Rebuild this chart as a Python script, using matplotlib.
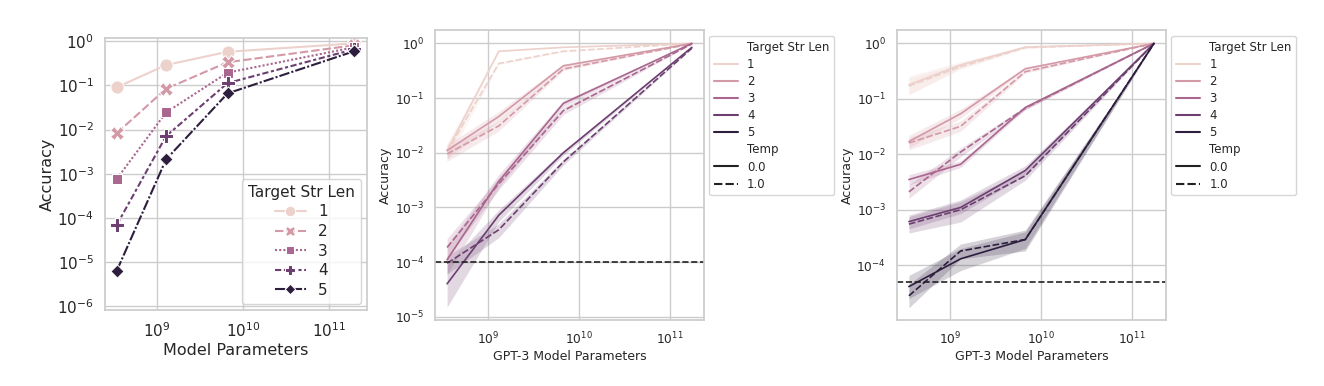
import numpy as np
import matplotlib
matplotlib.use("Agg")
import matplotlib.pyplot as plt
import seaborn as sns
from matplotlib.lines import Line2D

sns.set_theme(style="whitegrid")
plt.rcParams['font.family'] = ['DejaVu Sans']

# ---------------- data ----------------
lengths = [1, 2, 3, 4, 5]
params_left = [3.44e8, 1.28e9, 6.6e9, 1.95e11]
acc_left = {
    1: [0.091, 0.29, 0.58, 0.90],
    2: [0.0083, 0.084, 0.336, 0.815],
    3: [7.6e-4, 0.0244, 0.195, 0.736],
    4: [6.9e-5, 0.0071, 0.113, 0.665],
    5: [6.3e-6, 0.0021, 0.066, 0.60],
}

gpt3_params = [3.5e8, 1.3e9, 6.7e9, 1.75e11]
temps = [0.0, 1.0]

# panel 2: (mean, lower, upper) per (length, temp)
mid_mean = {
    (1, 0.0): [0.011, 0.72, 0.85, 1.0],
    (1, 1.0): [0.0105, 0.43, 0.72, 1.0],
    (2, 0.0): [0.011, 0.046, 0.39, 1.0],
    (2, 1.0): [0.0095, 0.031, 0.34, 0.99],
    (3, 0.0): [1.1e-4, 0.0030, 0.080, 1.0],
    (3, 1.0): [1.85e-4, 0.0027, 0.059, 0.98],
    (4, 0.0): [4e-5, 7.2e-4, 0.010, 0.85],
    (4, 1.0): [9.5e-5, 3.9e-4, 0.0068, 0.82],
}
mid_low = {
    (1, 0.0): [0.008, 0.70, 0.84, 1.0],
    (1, 1.0): [0.007, 0.41, 0.70, 1.0],
    (2, 0.0): [0.008, 0.037, 0.36, 1.0],
    (2, 1.0): [0.007, 0.025, 0.32, 0.99],
    (3, 0.0): [6e-5, 0.0023, 0.070, 1.0],
    (3, 1.0): [1.2e-4, 0.0021, 0.050, 0.975],
    (4, 0.0): [1.5e-5, 5.5e-4, 0.009, 0.84],
    (4, 1.0): [6e-5, 2.8e-4, 0.006, 0.81],
}
mid_high = {
    (1, 0.0): [0.015, 0.74, 0.86, 1.0],
    (1, 1.0): [0.014, 0.45, 0.74, 1.0],
    (2, 0.0): [0.014, 0.057, 0.42, 1.0],
    (2, 1.0): [0.012, 0.038, 0.37, 0.995],
    (3, 0.0): [2e-4, 0.0040, 0.090, 1.0],
    (3, 1.0): [2.7e-4, 0.0035, 0.068, 0.985],
    (4, 0.0): [9e-5, 9e-4, 0.011, 0.86],
    (4, 1.0): [1.3e-4, 5e-4, 0.0076, 0.83],
}
mid_chance = 1e-4

# panel 3
right_mean = {
    (1, 0.0): [0.18, 0.41, 0.86, 1.0],
    (1, 1.0): [0.17, 0.38, 0.84, 1.0],
    (2, 0.0): [0.017, 0.054, 0.35, 1.0],
    (2, 1.0): [0.016, 0.032, 0.31, 1.0],
    (3, 0.0): [0.0035, 0.0066, 0.070, 1.0],
    (3, 1.0): [0.0021, 0.011, 0.068, 1.0],
    (4, 0.0): [6.1e-4, 1.1e-3, 0.0051, 1.0],
    (4, 1.0): [5.5e-4, 1.0e-3, 0.0041, 1.0],
    (5, 0.0): [4.1e-5, 1.3e-4, 2.9e-4, 1.0],
    (5, 1.0): [2.8e-5, 1.8e-4, 2.9e-4, 1.0],
}
right_low = {
    (1, 0.0): [0.12, 0.36, 0.84, 1.0],
    (1, 1.0): [0.12, 0.34, 0.82, 1.0],
    (2, 0.0): [0.013, 0.045, 0.33, 1.0],
    (2, 1.0): [0.012, 0.026, 0.29, 1.0],
    (3, 0.0): [0.0028, 0.0058, 0.065, 1.0],
    (3, 1.0): [0.0016, 0.009, 0.063, 1.0],
    (4, 0.0): [4.5e-4, 8.5e-4, 0.0042, 1.0],
    (4, 1.0): [3.8e-4, 6e-4, 0.0034, 1.0],
    (5, 0.0): [2.5e-5, 8e-5, 2.0e-4, 1.0],
    (5, 1.0): [1.7e-5, 1.3e-4, 1.8e-4, 1.0],
}
right_high = {
    (1, 0.0): [0.26, 0.47, 0.88, 1.0],
    (1, 1.0): [0.24, 0.44, 0.86, 1.0],
    (2, 0.0): [0.022, 0.065, 0.37, 1.0],
    (2, 1.0): [0.020, 0.040, 0.33, 1.0],
    (3, 0.0): [0.0043, 0.0076, 0.075, 1.0],
    (3, 1.0): [0.0028, 0.013, 0.073, 1.0],
    (4, 0.0): [8e-4, 1.5e-3, 0.0062, 1.0],
    (4, 1.0): [7.5e-4, 1.4e-3, 0.005, 1.0],
    (5, 0.0): [6.5e-5, 2.0e-4, 4.0e-4, 1.0],
    (5, 1.0): [4.5e-5, 2.4e-4, 4.3e-4, 1.0],
}
right_chance = 5e-5

# ---------------- styling ----------------
cmap = sns.cubehelix_palette(as_cmap=True)
def col(L):
    return cmap((L - 1) / 4)

markers = ["o", "X", (4, 0, 45), "P", (4, 0, 0)]
dashes = [(None, None), (4, 1.5), (1, 1), (3, 1.25, 1.5, 1.25), (5, 1, 1, 1)]

fig = plt.figure(figsize=(13.24, 3.86), dpi=100)

# ---------------- panel 1 ----------------
ax1 = fig.add_axes([0.0793, 0.197, 0.1979, 0.7046])
handles = []
for i, L in enumerate(lengths):
    ln, = ax1.plot(params_left, acc_left[L], color=col(L), marker=markers[i],
                   markersize=9.5, markeredgecolor="white", markeredgewidth=0.75,
                   lw=1.5, label=str(L))
    if i > 0:
        ln.set_dashes(dashes[i])
    handles.append(ln)
ax1.set_xscale("log")
ax1.set_yscale("log")
ax1.set_xlim(10**8.40, 10**11.435)
ax1.set_ylim(10**-6.09, 10**0.076)
ax1.set_xticks([1e9, 1e10, 1e11])
ax1.set_yticks([10.0**k for k in range(-6, 1)])
ax1.minorticks_off()
ax1.tick_params(labelsize=11, pad=2)
ax1.set_xlabel("Model Parameters", fontsize=11.5, labelpad=2)
ax1.set_ylabel("Accuracy", fontsize=11.5, labelpad=2)
leg1 = ax1.legend(handles=handles, title="Target Str Len", loc="lower right",
                  fontsize=11, title_fontsize=11, labelspacing=0.3,
                  borderaxespad=0.4, markerscale=0.8)

# ---------------- panels 2 & 3 ----------------
def gpt_panel(rect, means, lows, highs, chance, ylim, ytick_exps):
    ax = fig.add_axes(rect)
    for (L, T), m in means.items():
        c = col(L)
        ax.fill_between(gpt3_params, lows[(L, T)], highs[(L, T)], color=c,
                        alpha=0.2, lw=0)
        ln, = ax.plot(gpt3_params, m, color=c, lw=1.2)
        if T == 1.0:
            ln.set_dashes((4, 1.5))
    ax.axhline(chance, color="#222222", ls="--", lw=1.2)
    ax.set_xscale("log")
    ax.set_yscale("log")
    ax.set_xlim(10**8.41, 10**11.376)
    ax.set_ylim(*ylim)
    ax.set_xticks([1e9, 1e10, 1e11])
    ax.set_yticks([10.0**k for k in ytick_exps])
    ax.minorticks_off()
    ax.tick_params(labelsize=8.8, pad=1.5)
    ax.set_xlabel("GPT-3 Model Parameters", fontsize=9, labelpad=2)
    ax.set_ylabel("Accuracy", fontsize=9, labelpad=2)
    hs = [Line2D([], [], color="none")]
    labs = ["Target Str Len"]
    for L in lengths:
        hs.append(Line2D([], [], color=col(L), lw=1.5))
        labs.append(str(L))
    hs.append(Line2D([], [], color="none"))
    labs.append("Temp")
    hs.append(Line2D([], [], color="#222222", lw=1.5))
    labs.append("0.0")
    h2 = Line2D([], [], color="#222222", lw=1.5)
    h2.set_dashes((4, 1.5))
    hs.append(h2)
    labs.append("1.0")
    ax.legend(hs, labs, loc="upper left", bbox_to_anchor=(1.02, 0.98),
              fontsize=8.5, labelspacing=0.35, borderaxespad=0.0,
              handlelength=2.0)
    return ax

ax2 = gpt_panel([0.3285, 0.171, 0.2032, 0.751], mid_mean, mid_low, mid_high,
                mid_chance, (10**-5.06, 10**0.244), range(-5, 1))
ax3 = gpt_panel([0.6773, 0.171, 0.2034, 0.751], right_mean, right_low, right_high,
                right_chance, (10**-4.99, 10**0.241), range(-4, 1))

fig.savefig("out.png", dpi=100)
